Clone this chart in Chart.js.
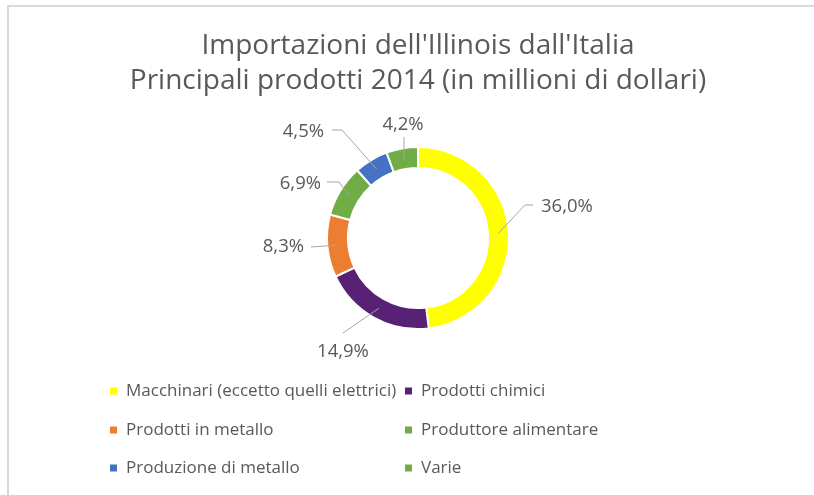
<!DOCTYPE html>
<html>
<head>
<meta charset="utf-8">
<script src="https://cdn.jsdelivr.net/npm/chart.js@4.4.1/dist/chart.umd.min.js"></script>
<style>
  html, body { margin: 0; padding: 0; background: #fff; }
  #wrap { position: relative; width: 814px; height: 495px; overflow: hidden; }
  #frame { position: absolute; left: 7px; top: 5px; right: -10px; bottom: -10px;
           border-top: 2px solid #d9d9d9; border-left: 2px solid #d9d9d9; }
  canvas { position: absolute; left: 0; top: 0; }
</style>
</head>
<body>
<div id="wrap">
  <div id="frame"></div>
  <canvas id="c" width="814" height="495"></canvas>
</div>
<script>
const titleLines = ["Importazioni dell'Illinois dall'Italia", "Principali prodotti 2014 (in millioni di dollari)"];
const categories = [
  "Macchinari (eccetto quelli elettrici)",
  "Prodotti chimici",
  "Prodotti in metallo",
  "Produttore alimentare",
  "Produzione di metallo",
  "Varie"
];
const shares = [36.0, 14.9, 8.3, 6.9, 4.5, 4.2];
const shareLabels = ["36,0%", "14,9%", "8,3%", "6,9%", "4,5%", "4,2%"];
const colors = ["#FFFF00", "#582176", "#ED7D31", "#70AD47", "#4472C4", "#70AD47"];

const FONT = "'Open Sans', 'Noto Sans', sans-serif";
const TEXT = "#595959";

// Label placement (pixel offsets from the doughnut centre): leader line path and text anchor
const labelLayout = [
  { path: [[107, -33], [115, -33]], text: [123, -31], align: "left" },
  { path: [[-75, 95]], text: [-75, 114], align: "center" },
  { path: [[-107, 9]], text: [-114, 9], align: "right" },
  { path: [[-79, -56], [-91, -56]], text: [-97, -54], align: "right" },
  { path: [[-76, -108], [-86, -108]], text: [-94, -106], align: "right" },
  { path: [[-14, -101]], text: [-15, -113], align: "center" }
];

const overlay = {
  id: "overlay",
  afterDraw(chart) {
    const ctx = chart.ctx;
    const meta = chart.getDatasetMeta(0);
    ctx.save();
    // title
    ctx.fillStyle = TEXT;
    ctx.textAlign = "center";
    ctx.textBaseline = "middle";
    ctx.font = "28px " + FONT;
    const cx0 = meta.data[0].x;
    ctx.fillText(titleLines[0], cx0, 46);
    ctx.fillText(titleLines[1], cx0, 81);

    // data labels + leader lines
    meta.data.forEach((arc, i) => {
      const p = arc.getProps(["x", "y", "startAngle", "endAngle", "innerRadius", "outerRadius"], true);
      const mid = (p.startAngle + p.endAngle) / 2;
      const r = (p.innerRadius + p.outerRadius) / 2;
      const sx = p.x + Math.cos(mid) * r;
      const sy = p.y + Math.sin(mid) * r;
      const L = labelLayout[i];
      ctx.strokeStyle = "#A6A6A6";
      ctx.lineWidth = 1;
      ctx.beginPath();
      ctx.moveTo(sx, sy);
      L.path.forEach(q => ctx.lineTo(p.x + q[0], p.y + q[1]));
      ctx.stroke();
      ctx.fillStyle = TEXT;
      ctx.font = "18.5px " + FONT;
      ctx.textAlign = L.align;
      ctx.textBaseline = "middle";
      ctx.fillText(shareLabels[i], p.x + L.text[0], p.y + L.text[1]);
    });

    // legend (2 columns, 3 rows)
    const colX = [110, 405];
    const rowY = [391, 430, 468];
    ctx.font = "17px " + FONT;
    ctx.textAlign = "left";
    ctx.textBaseline = "middle";
    categories.forEach((name, i) => {
      const x = colX[i % 2], y = rowY[Math.floor(i / 2)];
      ctx.fillStyle = colors[i];
      ctx.fillRect(x, y - 3.5, 7, 7);
      ctx.fillStyle = TEXT;
      ctx.fillText(name, x + 16, y + 0.5);
    });
    ctx.restore();
  }
};

new Chart(document.getElementById("c"), {
  type: "doughnut",
  data: {
    labels: categories,
    datasets: [{
      data: shares,
      backgroundColor: colors,
      borderColor: "#ffffff",
      borderWidth: 2,
      hoverOffset: 0
    }]
  },
  options: {
    responsive: false,
    animation: false,
    cutout: "77%",
    layout: { padding: { top: 146, bottom: 165, left: 22, right: 0 } },
    plugins: {
      legend: { display: false },
      title: { display: false },
      tooltip: { enabled: false }
    }
  },
  plugins: [overlay]
});
</script>
</body>
</html>
